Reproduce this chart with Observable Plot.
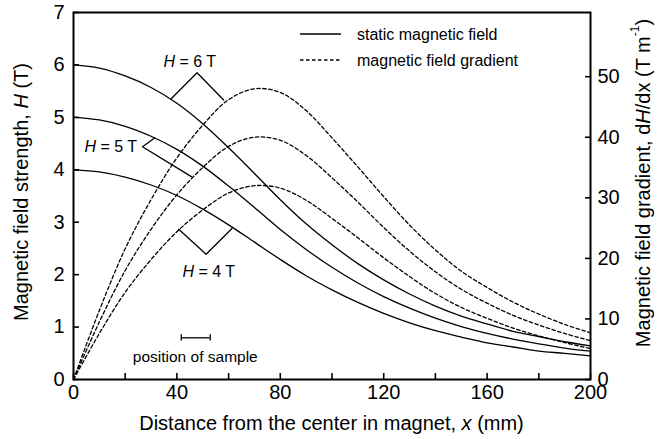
<!DOCTYPE html>
<html><head><meta charset="utf-8">
<script src="https://cdn.jsdelivr.net/npm/d3@7"></script>
<script src="https://cdn.jsdelivr.net/npm/@observablehq/plot@0.6"></script>
<style>
html,body{margin:0;padding:0;background:#fff;}
#chart svg{display:block;font-family:"Liberation Sans",Arial,sans-serif;}
</style></head><body><div id="chart"></div>
<script>
// distance from the magnet centre (mm)
const distance = [0,10,20,30,40,50,60,70,80,90,100,110,120,130,140,150,160,170,180,190,200];
// static magnetic field H (T)
const static6 = [6,5.94,5.79,5.57,5.27,4.88,4.42,3.93,3.43,2.97,2.57,2.21,1.90,1.63,1.40,1.21,1.06,0.92,0.82,0.72,0.64];
const static5 = [5,4.95,4.83,4.64,4.39,4.07,3.69,3.28,2.86,2.48,2.14,1.84,1.58,1.36,1.17,1.01,0.88,0.77,0.68,0.60,0.54];
const static4 = [4,3.96,3.86,3.71,3.51,3.25,2.95,2.62,2.29,1.98,1.71,1.47,1.26,1.08,0.93,0.81,0.70,0.62,0.54,0.50,0.45];
// magnetic field gradient dH/dx (T/m)
const grad6 = [0,11.4,21.6,29.7,36.6,42.0,46.2,48.0,47.4,44.4,39.9,35.1,30.2,25.5,21.4,17.9,15.2,12.8,10.8,9.1,7.7];
const grad5 = [0,9.5,18.0,24.8,30.5,35.0,38.5,40.0,39.5,37.0,33.3,29.3,25.1,21.2,17.8,14.9,12.6,10.6,9.0,7.6,6.4];
const grad4 = [0,7.6,14.4,19.8,24.4,28.0,30.8,32.0,31.6,29.6,26.6,23.4,20.1,17.0,14.2,11.9,10.1,8.5,7.2,6.1,5.1];
// ticks
const distanceTicks = [0,20,40,60,80,100,120,140,160,180,200];
const distanceLabels = [0,40,80,120,160,200];
const fieldTicks = [0,1,2,3,4,5,6,7];
const gradTicks = [0,10,20,30,40,50];
const fieldMax = 7;
const gradMax = 60.6;
// annotation leaders [x (mm), H (T)]
const leader6 = [[37.8,5.355],[47.8,5.85],[58.1,5.33]];
const leader5 = [[31.4,4.607],[26.7,4.44],[45.6,3.87]];
const leader4 = [[40.7,2.865],[51.3,2.39],[61.3,2.88]];
const sampleRange = [41.7,52.9];
const sampleLevel = 0.795;
const sampleCap = 0.06;

const k = fieldMax / gradMax;
const series = [
  {field: 6, H: static6, G: grad6},
  {field: 5, H: static5, G: grad5},
  {field: 4, H: static4, G: grad4}
];
const staticRows = [], gradRows = [];
for (const s of series) {
  distance.forEach((x, i) => {
    staticRows.push({x, y: s.H[i], field: s.field});
    gradRows.push({x, y: s.G[i] * k, field: s.field});
  });
}
const leaders = [leader6, leader5, leader4].flatMap((pts, j) => pts.map(([x, y]) => ({x, y, id: j})));
const none = () => "";

const font = "Liberation Sans, Arial, sans-serif";
const chart = Plot.plot({
  width: 658, height: 439,
  marginLeft: 73, marginRight: 68, marginTop: 12, marginBottom: 60,
  style: {fontFamily: font, background: "white", color: "black"},
  x: {type: "linear", domain: [0, 200], axis: null},
  y: {type: "linear", domain: [0, fieldMax], axis: null},
  marks: [
    Plot.line(staticRows, {x: "x", y: "y", z: "field", curve: "catmull-rom", stroke: "black", strokeWidth: 1.3}),
    Plot.line(gradRows, {x: "x", y: "y", z: "field", curve: "catmull-rom", stroke: "black", strokeWidth: 1.3, strokeDasharray: "3.5,2.5"}),
    Plot.line(leaders, {x: "x", y: "y", z: "id", stroke: "black", strokeWidth: 1.3}),
    Plot.ruleY([sampleLevel], {x1: sampleRange[0], x2: sampleRange[1], stroke: "black", strokeWidth: 1.3}),
    Plot.ruleX(sampleRange, {x: d => d, y1: sampleLevel - sampleCap, y2: sampleLevel + sampleCap, stroke: "black", strokeWidth: 1.3}),
    // ticks (inward)
    Plot.axisX(distanceTicks, {anchor: "bottom", label: null, tickSize: 6, dy: -6, tickFormat: none, strokeWidth: 1.6}),
    Plot.axisY(fieldTicks, {anchor: "left", label: null, tickSize: 6, dx: 6, tickFormat: none, strokeWidth: 1.6}),
    Plot.axisY(gradTicks.map(v => v * k), {anchor: "right", label: null, tickSize: 6, dx: -6, tickFormat: none, strokeWidth: 1.6}),
    // labels
    Plot.axisX(distanceLabels, {anchor: "bottom", label: null, tickSize: 0, tickPadding: 5, fontSize: 20, tickFormat: d => d}),
    Plot.axisY(fieldTicks, {anchor: "left", label: null, tickSize: 0, tickPadding: 9, fontSize: 20, tickFormat: d => d}),
    Plot.axisY(gradTicks.map(v => v * k), {anchor: "right", label: null, tickSize: 0, tickPadding: 7, fontSize: 20, tickFormat: d => Math.round(d / k)}),
    Plot.frame({stroke: "black", strokeWidth: 2})
  ]
});
document.getElementById("chart").appendChild(chart);

// text annotations (rich text) placed through the plot's scales
const sx = chart.scale("x"), sy = chart.scale("y");
const svg = d3.select(chart);
function rich(parts, x, y, opts = {}) {
  const t = svg.append("text").attr("x", x).attr("y", y)
    .attr("font-family", font).attr("font-size", opts.size || 16)
    .attr("text-anchor", opts.anchor || "middle").attr("dominant-baseline", "central")
    .attr("fill", "black");
  if (opts.rotate) t.attr("transform", `rotate(${opts.rotate},${x},${y})`);
  for (const p of parts) {
    const s = t.append("tspan").text(p.t);
    if (p.i) s.attr("font-style", "italic");
    if (p.sup) s.attr("font-size", opts.supSize || 12).attr("dy", -8);
    if (p.after) s.attr("dy", 8);
  }
  return t;
}
const HL = [{t: "H", i: true}];
rich([...HL, {t: " = 6 T"}], sx.apply(45.2), sy.apply(6.07));
rich([...HL, {t: " = 5 T"}], sx.apply(24.8), sy.apply(4.44), {anchor: "end"});
rich([...HL, {t: " = 4 T"}], sx.apply(52.5), sy.apply(2.06));
rich([{t: "position of sample"}], sx.apply(47.3), sy.apply(0.446), {size: 15.5});

// legend
const lg = svg.append("g");
[["static magnetic field", null, 34], ["magnetic field gradient", "3.5,2.5", 60]].forEach(([label, dash, y]) => {
  lg.append("line").attr("x1", 300).attr("x2", 341).attr("y1", y).attr("y2", y)
    .attr("stroke", "black").attr("stroke-width", 1.3).attr("stroke-dasharray", dash);
  lg.append("text").attr("x", 357).attr("y", y).attr("dominant-baseline", "central")
    .attr("text-anchor", "start")
    .attr("font-family", font).attr("font-size", 16).text(label);
});

// axis titles
rich([{t: "Distance from the center in magnet, "}, {t: "x", i: true}, {t: " (mm)"}], 331.5, 423, {size: 20});
rich([{t: "Magnetic field strength, "}, {t: "H", i: true}, {t: " (T)"}], 21, 192, {size: 20, rotate: -90});
rich([{t: "Magnetic field gradient, d"}, {t: "H", i: true}, {t: "/dx (T m"}, {t: "-1", sup: true}, {t: ")", after: true}], 643, 183, {size: 20, rotate: -90});
</script></body></html>
